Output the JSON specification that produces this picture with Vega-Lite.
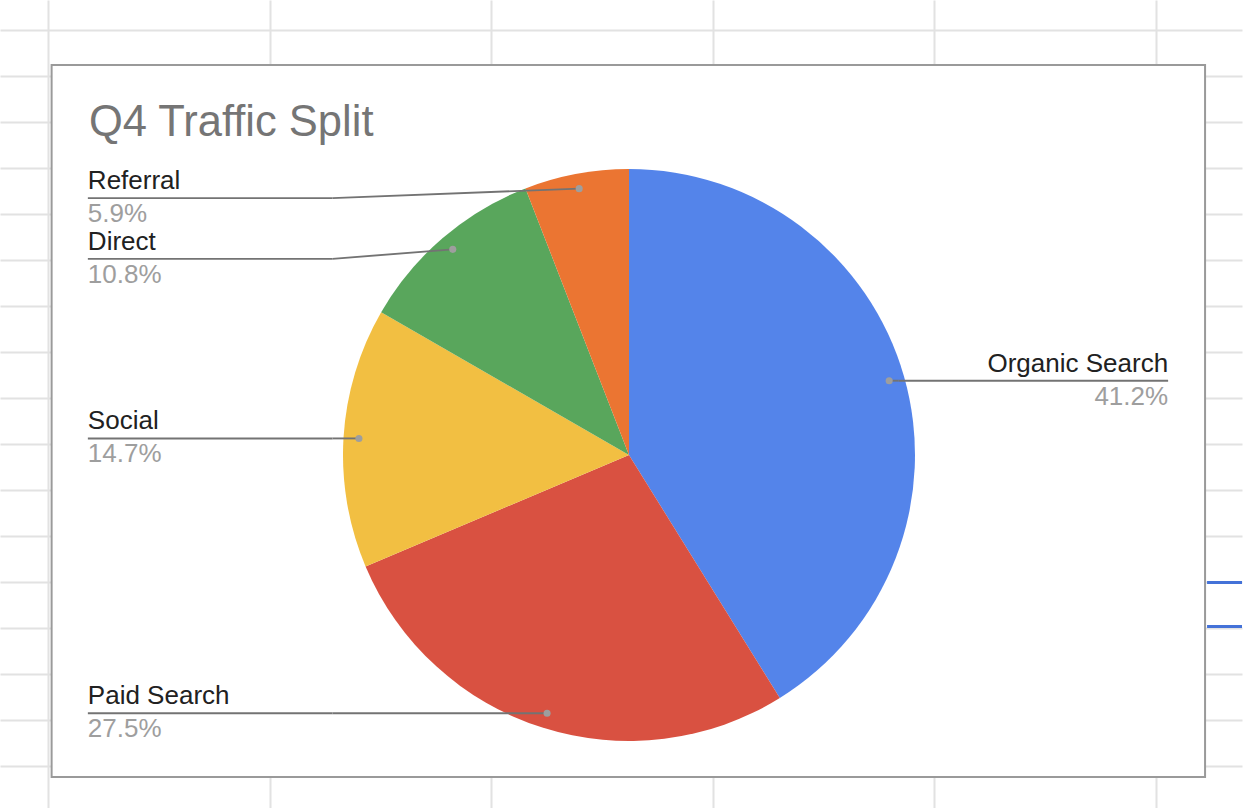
{
  "$schema": "https://vega.github.io/schema/vega-lite/v6.json",
  "width": 1244,
  "height": 808,
  "autosize": {"type": "fit", "contains": "padding"},
  "padding": 0,
  "background": "white",
  "config": {
    "view": {"stroke": null},
    "font": "Liberation Sans",
    "axis": {"grid": true, "gridColor": "#e2e2e2", "gridWidth": 2, "gridOpacity": 1, "labels": false, "ticks": false, "domain": false, "title": null, "minExtent": 0, "maxExtent": 0}
  },
  "title": {
    "text": "Q4 Traffic Split",
    "anchor": "start",
    "frame": "group",
    "orient": "top",
    "offset": -179,
    "dx": 89,
    "baseline": "alphabetic",
    "font": "Liberation Sans",
    "fontSize": 43.5,
    "fontWeight": "normal",
    "color": "#757575"
  },
  "layer": [
    {
      "data": {"values": [{}]},
      "mark": {"type": "rect", "fill": "white", "stroke": "#9a9a9a", "strokeWidth": 2},
      "encoding": {
        "x": {
          "datum": 51.7, "type": "quantitative",
          "scale": {"domain": [0, 1244], "nice": false, "zero": false},
          "axis": {"values": [48, 270, 492, 714, 936, 1158], "grid": true, "labels": false, "ticks": false, "domain": false, "title": null}
        },
        "x2": {"datum": 1207},
        "y": {
          "datum": 65, "type": "quantitative",
          "scale": {"domain": [0, 808], "nice": false, "zero": false, "reverse": true},
          "axis": {"values": [30, 76, 122, 168, 214, 260, 306, 352, 398, 444, 490, 536, 582, 628, 674, 720, 766], "grid": true, "labels": false, "ticks": false, "domain": false, "title": null}
        },
        "y2": {"datum": 777}
      }
    },
    {
      "data": {"values": [{}]},
      "mark": {"type": "rule", "color": "#4472d8", "strokeWidth": 3},
      "encoding": {
        "x": {"datum": 1209, "type": "quantitative"},
        "x2": {"datum": 1244},
        "y": {"datum": 582.5, "type": "quantitative"}
      }
    },
    {
      "data": {"values": [{}]},
      "mark": {"type": "rule", "color": "#4472d8", "strokeWidth": 3},
      "encoding": {
        "x": {"datum": 1209, "type": "quantitative"},
        "x2": {"datum": 1244},
        "y": {"datum": 626.5, "type": "quantitative"}
      }
    },
    {
      "data": {
        "values": [
          {"source": "Organic Search", "value": 41.2, "rank": 1},
          {"source": "Paid Search", "value": 27.5, "rank": 2},
          {"source": "Social", "value": 14.7, "rank": 3},
          {"source": "Direct", "value": 10.8, "rank": 4},
          {"source": "Referral", "value": 5.9, "rank": 5}
        ]
      },
      "transform": [
        {"window": [{"op": "sum", "field": "value", "as": "cum"}], "sort": [{"field": "rank"}], "frame": [null, 0]},
        {"joinaggregate": [{"op": "sum", "field": "value", "as": "total"}]},
        {"calculate": "2*PI*(datum.cum - datum.value/2)/datum.total", "as": "mid"},
        {"calculate": "630 + 271*sin(datum.mid)", "as": "dotX"},
        {"calculate": "455 - 271*cos(datum.mid)", "as": "dotY"},
        {"calculate": "datum.mid < PI ? 'right' : 'left'", "as": "side"},
        {"calculate": "datum.side == 'left' && datum.dotY < 300 ? datum.dotY + 9.5 : datum.dotY", "as": "labelY"},
        {"calculate": "datum.side == 'left' ? 333 : 900", "as": "bendX"},
        {"calculate": "datum.side == 'left' ? 88 : 1170", "as": "endX"},
        {"calculate": "format(datum.value, '.1f') + '%'", "as": "pct"}
      ],
      "layer": [
        {
          "mark": {"type": "arc", "outerRadius": 286},
          "encoding": {
            "theta": {"field": "value", "type": "quantitative", "stack": true},
            "order": {"field": "rank", "type": "quantitative"},
            "color": {
              "field": "source", "type": "nominal",
              "scale": {
                "domain": ["Organic Search", "Paid Search", "Social", "Direct", "Referral"],
                "range": ["#5484ea", "#d95141", "#f2bf42", "#59a65c", "#eb7532"]
              },
              "legend": null
            },
            "x": {"datum": 630, "type": "quantitative"},
            "y": {"datum": 455, "type": "quantitative"}
          }
        },
        {
          "mark": {"type": "rule", "color": "#737373", "strokeWidth": 1.9},
          "encoding": {
            "x": {"field": "dotX", "type": "quantitative"},
            "y": {"field": "dotY", "type": "quantitative"},
            "x2": {"field": "bendX"},
            "y2": {"field": "labelY"}
          }
        },
        {
          "mark": {"type": "rule", "color": "#737373", "strokeWidth": 1.9},
          "encoding": {
            "x": {"field": "bendX", "type": "quantitative"},
            "y": {"field": "labelY", "type": "quantitative"},
            "x2": {"field": "endX"},
            "y2": {"field": "labelY"}
          }
        },
        {
          "mark": {"type": "circle", "size": 50, "color": "#9e9e9e", "opacity": 1},
          "encoding": {
            "x": {"field": "dotX", "type": "quantitative"},
            "y": {"field": "dotY", "type": "quantitative"}
          }
        },
        {
          "transform": [{"filter": "datum.side == 'left'"}],
          "mark": {"type": "text", "align": "left", "baseline": "alphabetic", "dy": -9, "fontSize": 26, "font": "Liberation Sans", "color": "#212121"},
          "encoding": {
            "x": {"field": "endX", "type": "quantitative"},
            "y": {"field": "labelY", "type": "quantitative"},
            "text": {"field": "source"}
          }
        },
        {
          "transform": [{"filter": "datum.side == 'left'"}],
          "mark": {"type": "text", "align": "left", "baseline": "alphabetic", "dy": 24, "fontSize": 26, "font": "Liberation Sans", "color": "#9e9e9e"},
          "encoding": {
            "x": {"field": "endX", "type": "quantitative"},
            "y": {"field": "labelY", "type": "quantitative"},
            "text": {"field": "pct"}
          }
        },
        {
          "transform": [{"filter": "datum.side == 'right'"}],
          "mark": {"type": "text", "align": "right", "baseline": "alphabetic", "dy": -9, "fontSize": 26, "font": "Liberation Sans", "color": "#212121"},
          "encoding": {
            "x": {"field": "endX", "type": "quantitative"},
            "y": {"field": "labelY", "type": "quantitative"},
            "text": {"field": "source"}
          }
        },
        {
          "transform": [{"filter": "datum.side == 'right'"}],
          "mark": {"type": "text", "align": "right", "baseline": "alphabetic", "dy": 24, "fontSize": 26, "font": "Liberation Sans", "color": "#9e9e9e"},
          "encoding": {
            "x": {"field": "endX", "type": "quantitative"},
            "y": {"field": "labelY", "type": "quantitative"},
            "text": {"field": "pct"}
          }
        }
      ]
    }
  ]
}
